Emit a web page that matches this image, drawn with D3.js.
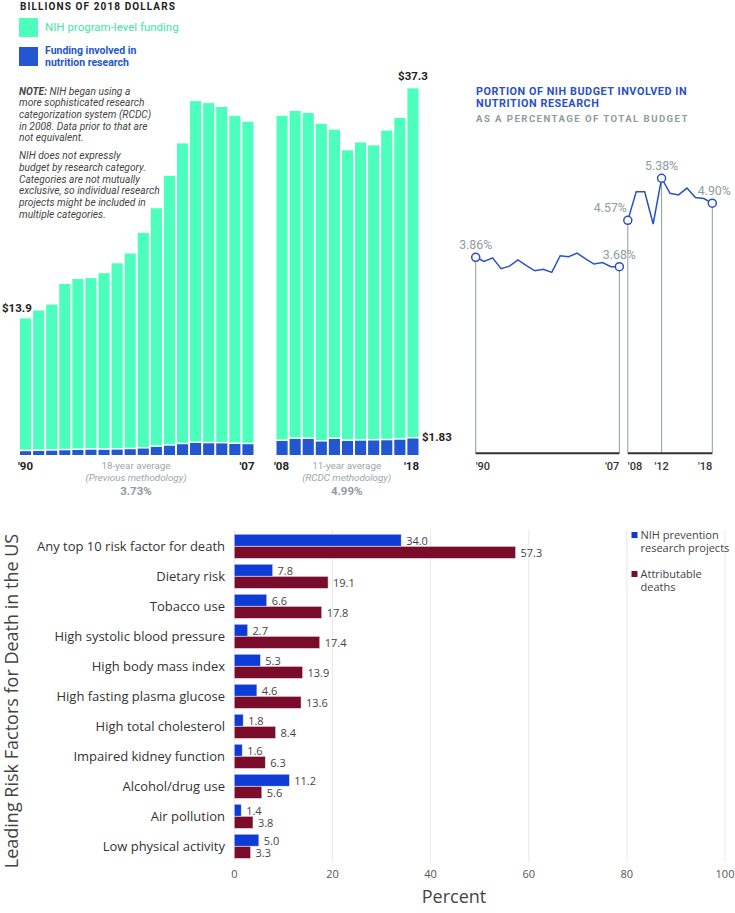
<!DOCTYPE html>
<html>
<head>
<meta charset="utf-8">
<script src="https://cdn.jsdelivr.net/npm/d3@7"></script>
<style>
  html, body { margin: 0; padding: 0; background: #fff; }
  svg { display: block; }
  .top { font-family: Roboto, "Liberation Sans", sans-serif; }
  .bot { font-family: "Open Sans", "Noto Sans", sans-serif; }
</style>
</head>
<body>
<svg id="chart" width="735" height="913"></svg>
<script>
// ---------- DATA ----------
const yearsOld = [1990,1991,1992,1993,1994,1995,1996,1997,1998,1999,2000,2001,2002,2003,2004,2005,2006,2007];
const yearsNew = [2008,2009,2010,2011,2012,2013,2014,2015,2016,2017,2018];
const totalOld = [13.9,14.7,15.3,17.4,17.9,18.0,18.5,19.5,20.5,22.6,25.1,28.4,31.7,36.0,35.8,35.4,34.5,33.9];
const totalNew = [34.5,35.0,34.8,33.7,33.1,31.0,31.8,31.5,33.0,34.3,37.3];
const nutrOld = [0.54,0.56,0.59,0.63,0.66,0.69,0.68,0.70,0.74,0.81,0.98,1.10,1.25,1.38,1.34,1.33,1.27,1.25];
const nutrNew = [1.58,1.79,1.78,1.52,1.78,1.58,1.61,1.63,1.65,1.71,1.83];
const pctOld = [3.86,3.78,3.85,3.64,3.69,3.81,3.70,3.60,3.63,3.57,3.89,3.87,3.94,3.83,3.73,3.76,3.68,3.68];
const pctNew = [4.57,5.12,5.12,4.50,5.38,5.09,5.06,5.19,5.01,4.99,4.90];
const pctMarked = [1990,2007,2008,2012,2018];
const lineTicks = ["'90","'07","'08","'12","'18"];

const riskFactors = ["Any top 10 risk factor for death","Dietary risk","Tobacco use","High systolic blood pressure","High body mass index","High fasting plasma glucose","High total cholesterol","Impaired kidney function","Alcohol/drug use","Air pollution","Low physical activity"];
const nihProjects = [34.0,7.8,6.6,2.7,5.3,4.6,1.8,1.6,11.2,1.4,5.0];
const attribDeaths = [57.3,19.1,17.8,17.4,13.9,13.6,8.4,6.3,5.6,3.8,3.3];
const pctTicks = [0,20,40,60,80,100];

// ---------- COLORS ----------
const GREEN = "#4dffbd", BLUE = "#2356d1", LBLUE = "#2a50c6", GRAY = "#8d9ca0";
const NIHBLUE = "#0d3bd6", MAROON = "#7a0b2b";

const svg = d3.select("#chart");

// ================= TOP LEFT: BAR CHART =================
const topG = svg.append("g").attr("class", "top");

topG.append("text").attr("x", 20).attr("y", 9.5)
  .attr("font-size", 10).attr("font-weight", 700).attr("letter-spacing", 1.1)
  .attr("fill", "#222").text("BILLIONS OF 2018 DOLLARS");

topG.append("rect").attr("x", 19).attr("y", 18).attr("width", 19).attr("height", 19).attr("fill", GREEN);
topG.append("text").attr("x", 45).attr("y", 31).attr("font-size", 11.5).attr("fill", "#3ee6a6")
  .text("NIH program-level funding");
topG.append("rect").attr("x", 19).attr("y", 47).attr("width", 19).attr("height", 19).attr("fill", BLUE);
topG.append("text").attr("x", 45).attr("y", 54.3).attr("font-size", 10.5).attr("font-weight", 700).attr("fill", BLUE)
  .text("Funding involved in");
topG.append("text").attr("x", 45).attr("y", 66.3).attr("font-size", 10.5).attr("font-weight", 700).attr("fill", BLUE)
  .text("nutrition research");

const note1 = ["more sophisticated research","categorization system (RCDC)","in 2008. Data prior to that are","not equivalent."];
const note2 = ["NIH does not expressly","budget by research category.","Categories are not mutually","exclusive, so individual research","projects might be included in","multiple categories."];
const nt = topG.append("g").attr("font-size", 10.2).attr("font-style", "italic").attr("fill", "#444");
const first = nt.append("text").attr("x", 19).attr("y", 94.6);
first.append("tspan").attr("font-weight", 700).text("NOTE:");
first.append("tspan").text(" NIH began using a");
note1.forEach((t, i) => nt.append("text").attr("x", 19).attr("y", 106.3 + i * 11.7).text(t));
note2.forEach((t, i) => nt.append("text").attr("x", 19).attr("y", 159.3 + i * 11.7).text(t));

const yBar = d3.scaleLinear().domain([0, 40]).range([455, 61.8]);
const xOld = d3.scaleBand().domain(yearsOld).range([20, 253.5]).paddingInner(0.15).paddingOuter(0);
const xNew = d3.scaleBand().domain(yearsNew).range([276.5, 418.5]).paddingInner(0.15).paddingOuter(0);

function drawBars(years, totals, nutr, x) {
  const g = topG.append("g");
  years.forEach((yr, i) => {
    g.append("rect").attr("x", x(yr)).attr("width", x.bandwidth())
      .attr("y", yBar(totals[i])).attr("height", yBar(nutr[i]) - yBar(totals[i])).attr("fill", GREEN);
    g.append("rect").attr("x", x(yr)).attr("width", x.bandwidth())
      .attr("y", yBar(nutr[i]) + 1.5).attr("height", Math.max(0, yBar(0) - yBar(nutr[i]) - 1.5)).attr("fill", BLUE);
  });
}
drawBars(yearsOld, totalOld, nutrOld, xOld);
drawBars(yearsNew, totalNew, nutrNew, xNew);

// value labels
topG.append("text").attr("x", 2).attr("y", yBar(totalOld[0]) - 6)
  .attr("font-size", 11.5).attr("font-weight", 700).attr("fill", "#222").text("$" + totalOld[0].toFixed(1));
topG.append("text").attr("x", xNew(2018) + xNew.bandwidth() / 2).attr("y", yBar(totalNew[10]) - 8)
  .attr("text-anchor", "middle").attr("font-size", 11.5).attr("font-weight", 700).attr("fill", "#222")
  .text("$" + totalNew[10].toFixed(1));
topG.append("text").attr("x", xNew(2018) + xNew.bandwidth() + 3.5).attr("y", yBar(nutrNew[10]) + 3.5)
  .attr("font-size", 11.5).attr("font-weight", 700).attr("fill", "#222").text("$" + nutrNew[10].toFixed(2));

// axis year labels
const yt = topG.append("g").attr("font-size", 11.5).attr("font-weight", 700).attr("fill", "#222");
yt.append("text").attr("x", xOld(1990) - 2).attr("y", 469.5).text("'90");
yt.append("text").attr("x", xOld(2007) + xOld.bandwidth() + 1).attr("y", 469.5).attr("text-anchor", "end").text("'07");
yt.append("text").attr("x", xNew(2008) - 2.5).attr("y", 469.5).text("'08");
yt.append("text").attr("x", xNew(2018) + xNew.bandwidth() + 0.5).attr("y", 469.5).attr("text-anchor", "end").text("'18");

function avgBlock(cx, l1, l2, l3) {
  const g = topG.append("g").attr("text-anchor", "middle").attr("fill", "#9aa6a9");
  g.append("text").attr("x", cx).attr("y", 469).attr("font-size", 9.8).text(l1);
  g.append("text").attr("x", cx).attr("y", 480.6).attr("font-size", 9.8).attr("font-style", "italic").text(l2);
  g.append("text").attr("x", cx).attr("y", 494.8).attr("font-size", 11.5).attr("font-weight", 700).attr("fill", "#8d9ca0").text(l3);
}
avgBlock(136, "18-year average", "(Previous methodology)", "3.73%");
avgBlock(346.7, "11-year average", "(RCDC methodology)", "4.99%");

// ================= TOP RIGHT: LINE CHART =================
const lc = svg.append("g").attr("class", "top");
lc.append("text").attr("x", 476).attr("y", 95).attr("font-size", 10.8).attr("font-weight", 700)
  .attr("letter-spacing", 0.55).attr("fill", LBLUE).text("PORTION OF NIH BUDGET INVOLVED IN");
lc.append("text").attr("x", 476).attr("y", 107.3).attr("font-size", 10.8).attr("font-weight", 700)
  .attr("letter-spacing", 0.55).attr("fill", LBLUE).text("NUTRITION RESEARCH");
lc.append("text").attr("x", 476).attr("y", 122.3).attr("font-size", 9.6).attr("font-weight", 700)
  .attr("letter-spacing", 1.45).attr("fill", GRAY).text("AS A PERCENTAGE OF TOTAL BUDGET");

const xL = d3.scaleLinear().domain([1990, 2018]).range([475.7, 712.3]);
const yL = d3.scaleLinear().domain([3, 6]).range([302, 146]);
const baseY = 453.3;

const oldPts = yearsOld.map((y, i) => [y, pctOld[i]]);
const newPts = yearsNew.map((y, i) => [y, pctNew[i]]);
const allPts = oldPts.concat(newPts);
const marked = allPts.filter(d => pctMarked.includes(d[0]));

// vertical drop lines
lc.selectAll(".drop").data(marked).enter().append("line")
  .attr("x1", d => xL(d[0])).attr("x2", d => xL(d[0]))
  .attr("y1", d => yL(d[1])).attr("y2", baseY)
  .attr("stroke", "#8f9c9c").attr("stroke-width", 1);

// baselines
[[1990, 2007], [2008, 2018]].forEach(r => {
  lc.append("line").attr("x1", xL(r[0])).attr("x2", xL(r[1])).attr("y1", baseY).attr("y2", baseY)
    .attr("stroke", "#333").attr("stroke-width", 2);
});

const line = d3.line().x(d => xL(d[0])).y(d => yL(d[1]));
[oldPts, newPts].forEach(p => {
  lc.append("path").attr("d", line(p)).attr("fill", "none").attr("stroke", LBLUE)
    .attr("stroke-width", 1.5).attr("stroke-linejoin", "miter");
});

lc.selectAll(".pt").data(marked).enter().append("circle")
  .attr("cx", d => xL(d[0])).attr("cy", d => yL(d[1])).attr("r", 4)
  .attr("fill", "#fff").attr("stroke", LBLUE).attr("stroke-width", 1.5);

const lblOff = { 1990: [0, "middle"], 2007: [0, "middle"], 2008: [-1, "end"], 2012: [0, "middle"], 2018: [2, "middle"] };
lc.selectAll(".pl").data(marked).enter().append("text")
  .attr("x", d => xL(d[0]) + lblOff[d[0]][0]).attr("y", d => yL(d[1]) - 8)
  .attr("text-anchor", d => lblOff[d[0]][1])
  .attr("font-size", 12.3).attr("fill", GRAY)
  .text(d => d[1].toFixed(2) + "%");

const tickAnchor = ["start", "end", "start", "middle", "end"];
lc.selectAll(".lt").data(pctMarked).enter().append("text")
  .attr("x", d => xL(d)).attr("y", 469.5)
  .attr("text-anchor", (d, i) => tickAnchor[i])
  .attr("font-size", 11).attr("font-weight", 500).attr("fill", "#333")
  .text((d, i) => lineTicks[i]);

// ================= BOTTOM: HORIZONTAL BAR CHART =================
const bot = svg.append("g").attr("class", "bot");
const xB = d3.scaleLinear().domain([0, 100]).range([234.3, 725]);
const yB = d3.scaleBand().domain(riskFactors).range([531.3, 861.3]).paddingInner(0.2).paddingOuter(0.1);
const ySub = d3.scaleBand().domain(["nih", "deaths"]).range([0, yB.bandwidth()]).paddingInner(0.03);
const plotTop = 530, plotBot = 862;

// grid
bot.selectAll(".grid").data(pctTicks).enter().append("line")
  .attr("x1", d => xB(d)).attr("x2", d => xB(d)).attr("y1", plotTop).attr("y2", plotBot)
  .attr("stroke", "#e6e8ea").attr("stroke-width", 1);

// tick labels
bot.selectAll(".xt").data(pctTicks).enter().append("text")
  .attr("x", d => xB(d)).attr("y", 878).attr("text-anchor", "middle")
  .attr("font-size", 11).attr("fill", "#555").text(d => d);

bot.append("text").attr("x", 454).attr("y", 903).attr("text-anchor", "middle")
  .attr("font-size", 18).attr("fill", "#444").text("Percent");

bot.append("text").attr("transform", "translate(18,701) rotate(-90)").attr("text-anchor", "middle")
  .attr("font-size", 18).attr("fill", "#444").text("Leading Risk Factors for Death in the US");

// category labels
bot.selectAll(".cat").data(riskFactors).enter().append("text")
  .attr("x", 225).attr("y", d => yB(d) + yB.bandwidth() / 2 + 4.5)
  .attr("text-anchor", "end").attr("font-size", 13).attr("fill", "#333").text(d => d);

const series = [
  { key: "nih", vals: nihProjects, color: NIHBLUE },
  { key: "deaths", vals: attribDeaths, color: MAROON }
];
series.forEach(s => {
  riskFactors.forEach((c, i) => {
    const y0 = yB(c) + ySub(s.key);
    bot.append("rect").attr("x", xB(0)).attr("y", y0)
      .attr("width", xB(s.vals[i]) - xB(0)).attr("height", ySub.bandwidth())
      .attr("fill", s.color).attr("stroke", "#d8d8e0").attr("stroke-width", 0.5);
    bot.append("text").attr("x", xB(s.vals[i]) + 5).attr("y", y0 + ySub.bandwidth() / 2 + 4.5)
      .attr("font-size", 11).attr("fill", "#444").text(s.vals[i].toFixed(1));
  });
});

// legend
const lg = bot.append("g").attr("font-size", 11).attr("fill", "#444");
lg.append("rect").attr("x", 631.5).attr("y", 532).attr("width", 6).attr("height", 6).attr("fill", NIHBLUE);
lg.append("text").attr("x", 640.5).attr("y", 539).text("NIH prevention");
lg.append("text").attr("x", 640.5).attr("y", 552.3).text("research projects");
lg.append("rect").attr("x", 631.5).attr("y", 571).attr("width", 6).attr("height", 6).attr("fill", MAROON);
lg.append("text").attr("x", 640.5).attr("y", 578).text("Attributable");
lg.append("text").attr("x", 640.5).attr("y", 591.3).text("deaths");
</script>
</body>
</html>
